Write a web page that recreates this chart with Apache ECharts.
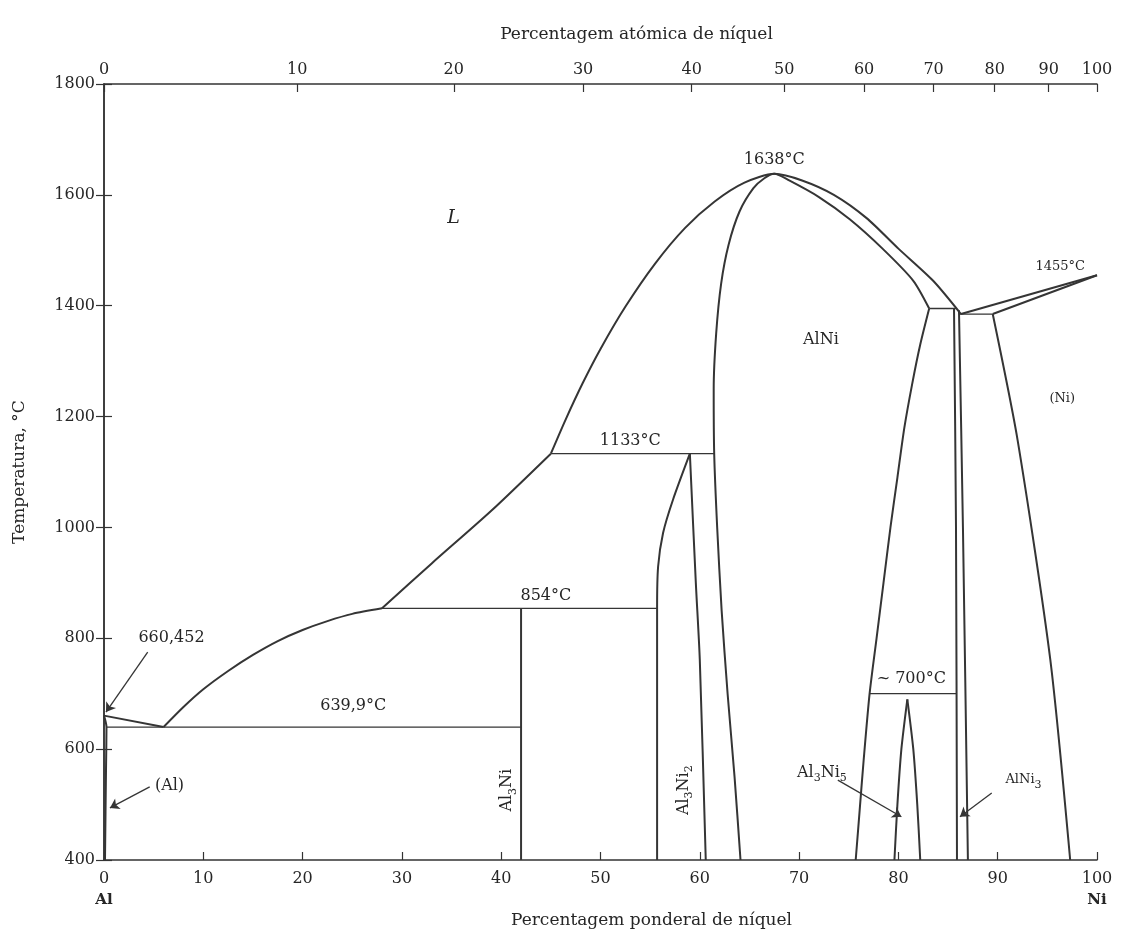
<!DOCTYPE html>
<html><head><meta charset="utf-8">
<script src="https://cdn.jsdelivr.net/npm/echarts@6/dist/echarts.min.js"></script>
<style>html,body{margin:0;padding:0;background:#fff}#c{width:1128px;height:936px}</style>
</head><body><div id="c"></div>
<script>
// ---------- axes / ticks ----------
const wtTicks = [0,10,20,30,40,50,60,70,80,90,100];
const atomicTicks = [0,10,20,30,40,50,60,70,80,90,100];
const tempTicks = [400,600,800,1000,1200,1400,1600,1800];
const M_AL = 26.98, M_NI = 58.69;           // atomic masses for at% -> wt% conversion
const atomicPosWt = atomicTicks.map(a => 100*a*M_NI/(a*M_NI + (100-a)*M_AL));

// ---------- phase boundaries  [wt% Ni, °C] ----------
const liquidusAlSide   = [[0,660.452],[6.0,639.9]];
const alSolvus         = [[0,660.452],[0.25,639.9],[0.2,560],[0.1,400]];
const liquidusToPerit1 = [[6.0,639.9],[8.0,676],[10.0,708],[12.5,741],[15.0,770],[17.5,795],[20.0,815],[22.5,831],[25.0,844],[28.0,854]];
const liquidusToPerit2 = [[28.0,854],[33.0,935],[39.0,1030],[45.0,1133]];
const liquidusHigh     = [[45.0,1133],[46.5,1195],[48.2,1260],[50.0,1322],[52.5,1398],[55.5,1476],[58.5,1540],[61.5,1588],[64.5,1622],[67.5,1638],
                          [70.3,1626],[73.5,1600],[76.8,1558],[80.0,1503],[83.5,1445],[86.3,1385]];
const alNiSolidus      = [[64.1,400],[63.5,550],[62.8,700],[62.2,850],[61.75,1000],[61.45,1133],[61.4,1250],[61.65,1350],[62.15,1440],[62.9,1510],[64.0,1570],[65.4,1612],[66.5,1630],[67.5,1638],
                          [69.0,1626],[72.0,1596],[75.1,1556],[78.4,1503],[81.5,1445],[83.1,1395]];
const alNiRightSolvus  = [[83.1,1395],[82.2,1330],[81.4,1260],[80.6,1180],[79.9,1090],[79.2,1000],[78.5,900],[77.8,800],[77.1,700],[76.5,580],[76.1,490],[75.7,400]];
const al3NiLine        = [[42.0,854],[42.0,400]];
const al3Ni2Left       = [[59.0,1133],[57.3,1050],[56.3,990],[55.8,929],[55.7,854],[55.7,400]];
const al3Ni2Right      = [[59.0,1133],[59.6,900],[60.0,761],[60.6,400]];
const al3Ni5Left       = [[80.9,690],[80.3,600],[79.9,500],[79.6,400]];
const al3Ni5Right      = [[80.9,690],[81.5,600],[81.9,500],[82.2,400]];
const alNi3Left        = [[85.6,1395],[85.8,1000],[85.9,400]];
const alNi3Right       = [[86.1,1392],[86.5,1000],[87.0,400]];
const liquidusNiSide   = [[86.3,1385],[100,1455]];
const solidusNi        = [[89.5,1385],[100,1455]];
const niSolvus         = [[89.5,1385],[92.0,1158],[95.3,761],[97.3,400]];
// invariant lines
const eutectic639  = [[0.25,639.9],[42.0,639.9]];
const perit854     = [[28.0,854],[55.7,854]];
const perit1133    = [[45.0,1133],[61.45,1133]];
const perit1395    = [[83.1,1395],[85.8,1395]];
const eutectic1385 = [[86.1,1385],[89.5,1385]];
const perit700     = [[77.1,700],[85.8,700]];

// ---------- annotations ----------
const labelTexts = [
  ['{i|L}', 35.2, 1558, 0],
  ['{t|AlNi}', 72.2, 1338, 0],
  ['{t|1638°C}', 67.5, 1664, 0],
  ['{t|1133°C}', 53.0, 1156, 0],
  ['{t|854°C}', 44.5, 876, 0],
  ['{t|639,9°C}', 25.1, 678, 0],
  ['{t|660,452}', 6.8, 801, 0],
  ['{t|(Al)}', 6.6, 534, 0],
  ['{t|Al}{s|3}{t|Ni}', 40.6, 526, 90],
  ['{t|Al}{s|3}{t|Ni}{s|2}', 58.4, 526, 90],
  ['{t|~ 700°C}', 81.3, 726, 0],
  ['{t|Al}{s|3}{t|Ni}{s|5}', 72.3, 557, 0],
  ['{m|AlNi}{s|3}', 92.6, 545, 0],
  ['{m|1455°C}', 96.3, 1470, 0],
  ['{m|(Ni)}', 96.5, 1233, 0]
];
const arrows = [
  [[4.4,775],[0.2,667]],
  [[4.6,532],[0.6,494]],
  [[73.9,544],[80.3,478]],
  [[89.4,521],[86.2,478]]
];

const FONT = '"DejaVu Serif","Liberation Serif",serif';
const TXT = '#262626', LINE = '#353535';

function boundary(data, width, smooth){
  return {type:'line', data, symbol:'none', showSymbol:false, silent:true, animation:false,
          smooth: smooth === undefined ? 0.25 : smooth, lineStyle:{color:LINE, width: width || 2}, z:3};
}
const curves = [liquidusAlSide, alSolvus, liquidusToPerit1, liquidusToPerit2, liquidusHigh, alNiSolidus,
  alNiRightSolvus, al3Ni2Left, al3Ni2Right, al3Ni5Left, al3Ni5Right, alNi3Left, alNi3Right,
  liquidusNiSide, solidusNi, niSolvus].map(d => boundary(d, 2));
const straight = [al3NiLine].map(d => boundary(d, 2, false));
const isotherms = [eutectic639, perit854, perit1133, perit1395, eutectic1385, perit700].map(d => boundary(d, 1.3, false));

const richText = {
  t:{fontFamily:FONT, fontSize:16, color:TXT, lineHeight:22, verticalAlign:'middle'},
  m:{fontFamily:FONT, fontSize:13, color:TXT, lineHeight:22, verticalAlign:'middle'},
  s:{fontFamily:FONT, fontSize:11, color:TXT, lineHeight:12, verticalAlign:'bottom'},
  i:{fontFamily:FONT, fontSize:19, fontStyle:'italic', color:TXT, lineHeight:22}
};
const labelSeries = {
  type:'scatter', symbolSize:1, silent:true, animation:false, z:5,
  itemStyle:{color:'rgba(0,0,0,0)'},
  data: labelTexts.map(l => ({value:[l[1], l[2]],
    label:{show:true, position:'inside', formatter:l[0], rotate:l[3], color:TXT,
           textBorderWidth:0, opacity:1, rich:richText}}))
};
const arrowSeries = {
  type:'lines', coordinateSystem:'cartesian2d', silent:true, animation:false, z:4,
  symbol:['none','arrow'], symbolSize:[0,9],
  lineStyle:{color:LINE, width:1.3, opacity:1, curveness:0},
  data: arrows.map(a => ({coords:a}))
};

const chart = echarts.init(document.getElementById('c'), null, {renderer:'canvas'});
chart.setOption({
  backgroundColor:'#ffffff',
  animation:false,
  grid:{left:104, right:31, top:84, bottom:76},
  xAxis:[
    {type:'value', position:'bottom', min:0, max:100, interval:10,
     name:'Percentagem ponderal de níquel', nameLocation:'middle', nameGap:45,
     nameTextStyle:{fontFamily:FONT, fontSize:17, color:TXT, padding:[0,0,0,102]},
     axisLine:{lineStyle:{color:'#333', width:1.5}},
     axisTick:{inside:true, length:8, lineStyle:{color:'#333', width:1.2}},
     splitLine:{show:false},
     axisLabel:{margin:8, color:TXT, fontFamily:FONT, fontSize:16,
       formatter: v => v === 0 ? '{n|0}\n{b|Al}' : (v === 100 ? '{n|100}\n{b|Ni}' : '{n|' + v + '}'),
       rich:{n:{fontFamily:FONT, fontSize:16, color:TXT, lineHeight:22},
             b:{fontFamily:FONT, fontSize:15, fontWeight:'bold', color:TXT, lineHeight:20}}}},
    {type:'value', position:'top', min:0, max:100,
     name:'Percentagem atómica de níquel', nameLocation:'middle', nameGap:41,
     nameTextStyle:{fontFamily:FONT, fontSize:17, color:TXT, padding:[0,0,0,72]},
     axisLine:{lineStyle:{color:'#333', width:1.5}},
     axisTick:{inside:true, length:8, customValues:atomicPosWt, lineStyle:{color:'#333', width:1.2}},
     splitLine:{show:false},
     axisLabel:{margin:6, color:TXT, fontFamily:FONT, fontSize:16, customValues:atomicPosWt,
       formatter: v => {
         let best = 0;
         atomicPosWt.forEach((p, i) => { if (Math.abs(p - v) < Math.abs(atomicPosWt[best] - v)) best = i; });
         return String(atomicTicks[best]);
       }}}
  ],
  yAxis:[
    {type:'value', position:'left', min:400, max:1800, interval:200,
     name:'Temperatura, °C', nameLocation:'middle', nameGap:76,
     nameTextStyle:{fontFamily:FONT, fontSize:17, color:TXT},
     axisLine:{show:true, lineStyle:{color:'#333', width:1.5}},
     axisTick:{show:true, inside:true, length:8, lineStyle:{color:'#333', width:1.2}},
     splitLine:{show:false},
     axisLabel:{margin:9, color:TXT, fontFamily:FONT, fontSize:16, formatter: v => String(v)}},
    {type:'value', position:'right', min:400, max:1800, interval:200,
     axisLine:{show:true, lineStyle:{color:'#333', width:1.5}},
     axisTick:{show:true, inside:true, length:8, lineStyle:{color:'#333', width:1.2}},
     splitLine:{show:false}, axisLabel:{show:false}}
  ],
  series: [...curves, ...straight, ...isotherms, arrowSeries, labelSeries]
});
</script>
</body></html>
